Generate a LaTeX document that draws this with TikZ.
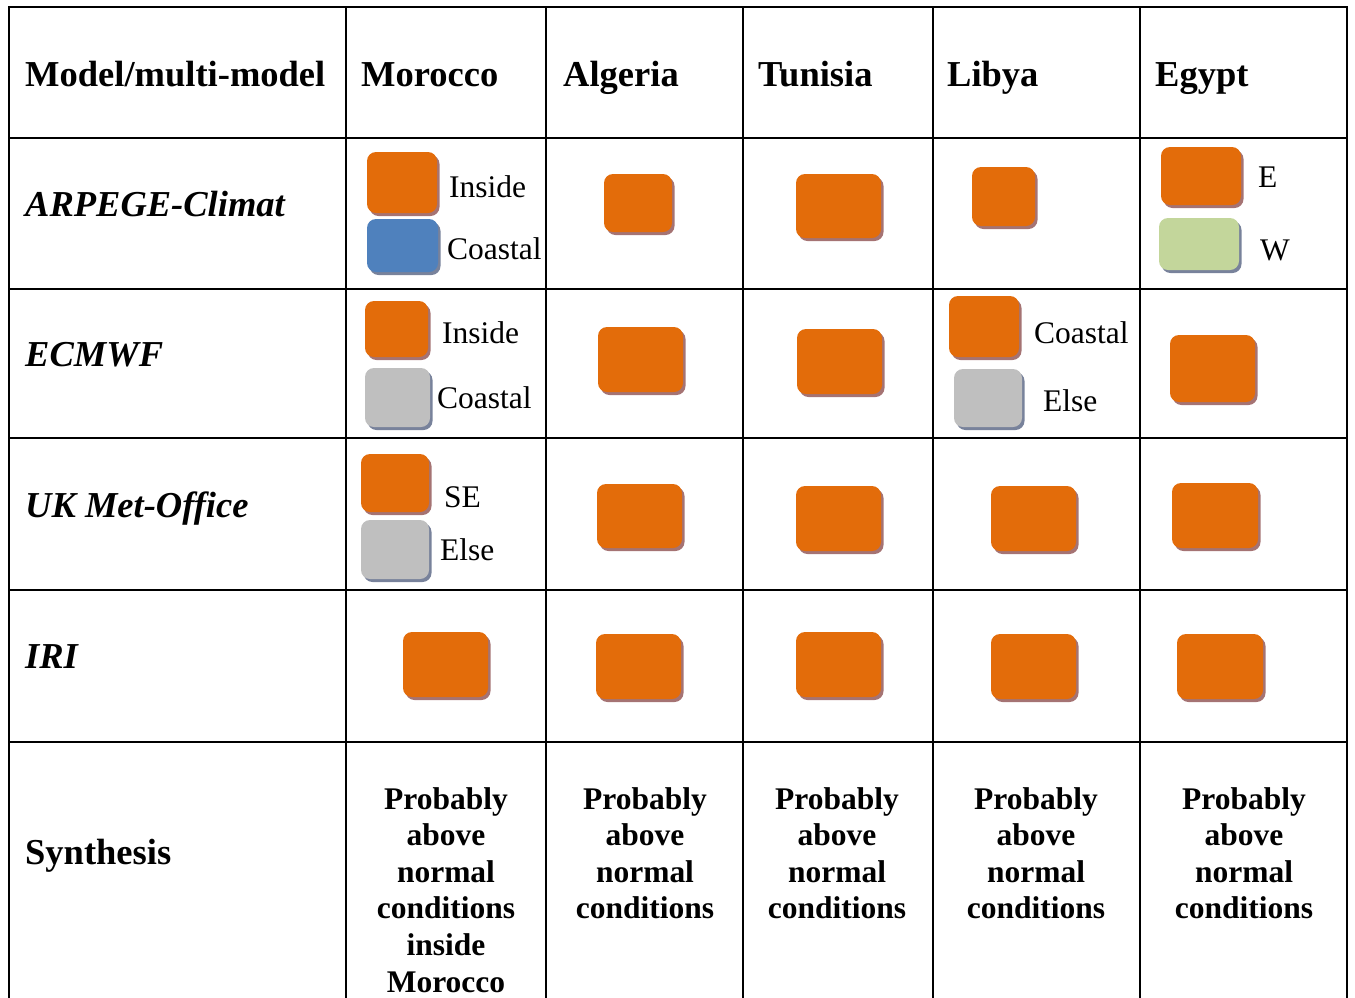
\documentclass[tikz,border=0pt]{standalone}
\usepackage{fontspec}
\setmainfont{Liberation Serif}
\usetikzlibrary{shadows}
\definecolor{cor}{RGB}{227,108,10}
\definecolor{cbl}{RGB}{79,129,189}
\definecolor{cgr}{RGB}{191,191,191}
\definecolor{cgn}{RGB}{195,214,155}
\definecolor{shor}{RGB}{165,115,115}
\definecolor{shbl}{RGB}{120,130,155}
\tikzset{
  grid line/.style={line width=2pt, line cap=rect},
  cbox/.style={rounded corners=9pt, inner sep=0pt, draw=none},
  obox/.style={cbox, fill=cor, drop shadow={shadow xshift=2.5pt, shadow yshift=-3pt, fill=shor, opacity=1}},
  bbox/.style={cbox, fill=cbl, drop shadow={shadow xshift=2.5pt, shadow yshift=-3pt, fill=shbl, opacity=1}},
  gbox/.style={cbox, fill=cgr, drop shadow={shadow xshift=2.5pt, shadow yshift=-3pt, fill=shbl, opacity=1}},
  nbox/.style={cbox, fill=cgn, drop shadow={shadow xshift=2.5pt, shadow yshift=-3pt, fill=shbl, opacity=1}},
  hdr/.style={anchor=base west, inner sep=0pt, font=\fontsize{36.5}{44}\selectfont\bfseries},
  rowl/.style={anchor=base west, inner sep=0pt, font=\fontsize{36.5}{44}\selectfont\bfseries\itshape},
  lbl/.style={anchor=base west, inner sep=0pt, font=\fontsize{31.5}{38}\selectfont},
  syn/.style={anchor=north, inner sep=0pt, align=center, font=\fontsize{31.5}{36.6}\selectfont\bfseries},
}
\begin{document}
\begin{tikzpicture}[x=1pt,y=-1pt]
\useasboundingbox (0,0) rectangle (1355,997);
% grid
\foreach \yy in {7,138,289,438,590,742} \draw[grid line] (9,\yy) -- (1347,\yy);
\foreach \xx in {9,346,546,743,933,1140,1347} \draw[grid line] (\xx,7) -- (\xx,1000);
% headers
\node[hdr] (h0) at (25,86) {Model/multi-model};
\node[hdr] (h1) at (361,86) {Morocco};
\node[hdr] (h2) at (563,86) {Algeria};
\node[hdr] (h3) at (758,86) {Tunisia};
\node[hdr] (h4) at (947,86) {Libya};
\node[hdr] (h5) at (1155,86) {Egypt};
% row labels
\node[rowl] (r1) at (25,216) {ARPEGE-Climat};
\node[rowl] (r2) at (25,366) {ECMWF};
\node[rowl] (r3) at (25,517) {UK Met-Office};
\node[rowl] (r4) at (25,668) {IRI};
\node[hdr] (r5) at (25,864) {Synthesis};
% ARPEGE row
\node[obox, minimum width=70pt, minimum height=61pt] (a1o) at (402,182.5) {};
\node[bbox, minimum width=71pt, minimum height=53pt] (a1b) at (402.5,245.5) {};
\node[lbl] (a1ot) at (449,197) {Inside};
\node[lbl] (a1bt) at (447,259) {Coastal};
\node[obox, minimum width=68pt, minimum height=58pt] (a2) at (638,203) {};
\node[obox, minimum width=85pt, minimum height=64pt] (a3) at (838.5,206) {};
\node[obox, minimum width=63pt, minimum height=59pt] (a4) at (1003.5,196.5) {};
\node[obox, minimum width=80pt, minimum height=58pt] (a5o) at (1201,176) {};
\node[nbox, minimum width=80pt, minimum height=52pt] (a5g) at (1199,244) {};
\node[lbl] (a5ot) at (1258,187) {E};
\node[lbl] (a5gt) at (1260,260) {W};
% ECMWF row
\node[obox, minimum width=63pt, minimum height=56pt] (e1o) at (396.5,329) {};
\node[gbox, minimum width=65pt, minimum height=59pt] (e1g) at (397.5,397.5) {};
\node[lbl] (e1ot) at (442,343) {Inside};
\node[lbl] (e1gt) at (437,408) {Coastal};
\node[obox, minimum width=85pt, minimum height=65pt] (e2) at (640.5,359.5) {};
\node[obox, minimum width=85pt, minimum height=65pt] (e3) at (839.5,361.5) {};
\node[obox, minimum width=70pt, minimum height=61pt] (e4o) at (984,326.5) {};
\node[gbox, minimum width=68pt, minimum height=58pt] (e4g) at (988,398) {};
\node[lbl] (e4ot) at (1034,343) {Coastal};
\node[lbl] (e4gt) at (1043,411) {Else};
\node[obox, minimum width=85pt, minimum height=67pt] (e5) at (1212.5,368.5) {};
% UK row
\node[obox, minimum width=68pt, minimum height=58pt] (u1o) at (395,483) {};
\node[gbox, minimum width=68pt, minimum height=59pt] (u1g) at (395,549.5) {};
\node[lbl] (u1ot) at (444,507) {SE};
\node[lbl] (u1gt) at (440,560) {Else};
\node[obox, minimum width=85pt, minimum height=64pt] (u2) at (639.5,516) {};
\node[obox, minimum width=85pt, minimum height=65pt] (u3) at (838.5,518.5) {};
\node[obox, minimum width=85pt, minimum height=65pt] (u4) at (1033.5,518.5) {};
\node[obox, minimum width=86pt, minimum height=65pt] (u5) at (1215,515.5) {};
% IRI row
\node[obox, minimum width=85pt, minimum height=65pt] (i1) at (445.5,664.5) {};
\node[obox, minimum width=85pt, minimum height=65pt] (i2) at (638.5,666.5) {};
\node[obox, minimum width=85pt, minimum height=65pt] (i3) at (838.5,664.5) {};
\node[obox, minimum width=85pt, minimum height=65pt] (i4) at (1033.5,666.5) {};
\node[obox, minimum width=86pt, minimum height=65pt] (i5) at (1220,666.5) {};
% Synthesis row
\node[syn] (s1) at (446,787) {Probably\\above\\normal\\conditions\\inside\\Morocco};
\node[syn] (s2) at (645,787) {Probably\\above\\normal\\conditions};
\node[syn] (s3) at (837,787) {Probably\\above\\normal\\conditions};
\node[syn] (s4) at (1036,787) {Probably\\above\\normal\\conditions};
\node[syn] (s5) at (1244,787) {Probably\\above\\normal\\conditions};
\end{tikzpicture}
\end{document}
